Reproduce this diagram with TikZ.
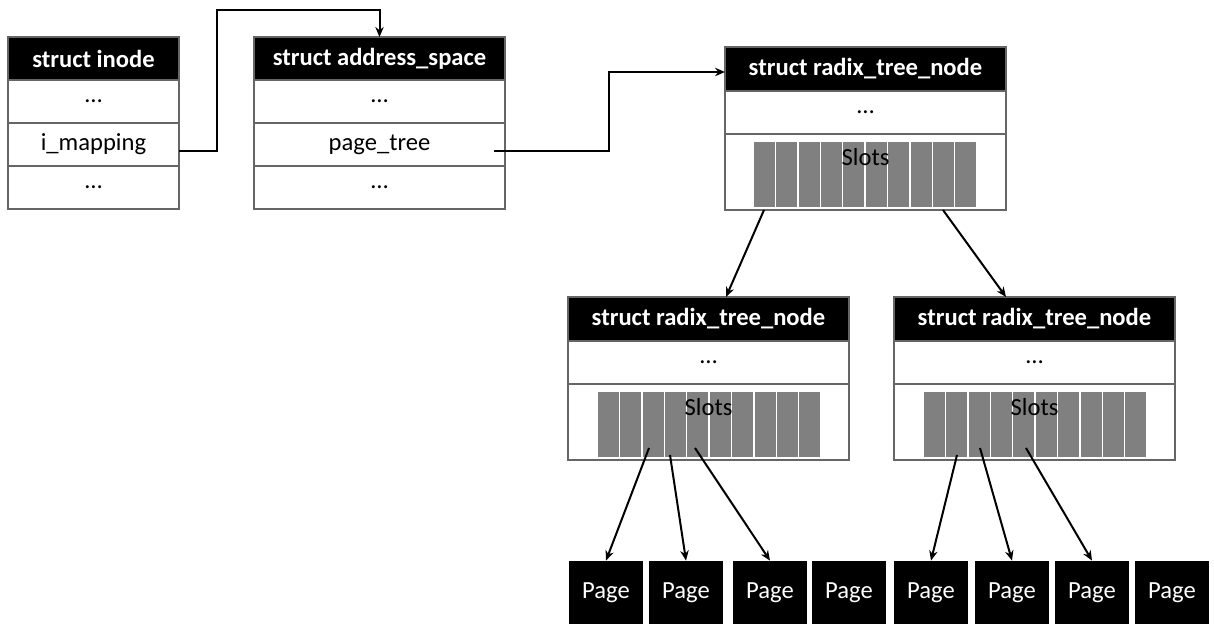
\documentclass[tikz,border=0pt]{standalone}
\usepackage{fontspec}
\setmainfont{Carlito}
\usetikzlibrary{arrows.meta}

\begin{document}
\begin{tikzpicture}[
    x=0.5pt, y=-0.5pt,
    font=\fontsize{12.3}{14}\selectfont,
    head/.style={draw=black!60, line width=0.6pt, fill=black, text=white,
                 minimum height=21.5pt, inner sep=0pt, outer sep=0pt,
                 font=\fontsize{12.3}{14}\selectfont\bfseries},
    field/.style={draw=black!60, line width=0.6pt, fill=white,
                  minimum height=21.5pt, inner sep=0pt, outer sep=0pt},
    pagebox/.style={fill=black, text=white, minimum width=37pt,
                    minimum height=32pt, inner sep=0pt},
    slot/.style={fill=black!50, draw=white, line width=0.7pt},
    arr/.style={-{Stealth[length=5pt, width=4.2pt]}, line width=1pt}
  ]
    \useasboundingbox (0,0) rectangle (1214,624);

    % struct inode
    \node[head, minimum width=85.5pt] (inode) at (93.5,58.5) {struct inode};
    \node[field, minimum width=85.5pt] (inodeA) at (93.5,101.5) {…};
    \node[field, minimum width=85.5pt] (imap) at (93.5,144.5) {i\_mapping};
    \node[field, minimum width=85.5pt] (inodeB) at (93.5,187.5) {…};

    % struct address_space
    \node[head, minimum width=125.5pt] (aspace) at (379.5,58.5) {struct address\_space};
    \node[field, minimum width=125.5pt] (aspaceA) at (379.5,101.5) {…};
    \node[field, minimum width=125.5pt] (ptree) at (379.5,144.5) {page\_tree};
    \node[field, minimum width=125.5pt] (aspaceB) at (379.5,187.5) {…};

    % radix tree nodes
    \foreach \nm/\cx/\cy in {radA/865.5/69, radB/708.5/319, radC/1034.5/319} {
      \node[head, minimum width=140.5pt, minimum height=22pt] (\nm) at (\cx,\cy) {struct radix\_tree\_node};
      \node[field, minimum width=140.5pt] (\nm dots) at (\cx,\cy+43.5) {…};
      \node[field, minimum width=140.5pt, minimum height=38pt] (\nm slots) at (\cx,\cy+103) {};
    }
    \foreach \sx/\sy in {753/141, 597/391, 923/391}
      \foreach \i in {0,...,9}
        \filldraw[slot] ({\sx+\i*22.4},\sy) rectangle +(22.4,67);
    \node (slotsA) at (865.5,157) {Slots};
    \node (slotsB) at (708.5,407) {Slots};
    \node (slotsC) at (1034.5,407) {Slots};

    % pages
    \foreach \px [count=\k] in {606,686,770,849,931,1012,1092,1172}
      \node[pagebox] (pg\k) at (\px,593) {Page};

    % pointers
    \coordinate (bendA) at (217,10);
    \coordinate (bendB) at (609,72);
    \draw[arr] ([yshift=-3.5pt]imap.east) -| (bendA) -| (aspace.north);
    \draw[arr] ([xshift=-5.5pt, yshift=-3.5pt]ptree.east) -| (bendB) -- (bendB -| radA.west);

    \coordinate (tA1) at (764,210);
    \coordinate (tA2) at (943,210);
    \draw[arr] (tA1) -- ([xshift=8.75pt]radB.north);
    \draw[arr] (tA2) -- ([xshift=-14.25pt]radC.north);

    \coordinate (sB1) at (649,448);
    \coordinate (sB2) at (670,455);
    \coordinate (sB3) at (695,448);
    \coordinate (sC1) at (957,455);
    \coordinate (sC2) at (980,448);
    \coordinate (sC3) at (1026,448);
    \draw[arr] (sB1) -- (pg1.north);
    \draw[arr] (sB2) -- (pg2.north);
    \draw[arr] (sB3) -- (pg3.north);
    \draw[arr] (sC1) -- (pg5.north);
    \draw[arr] (sC2) -- (pg6.north);
    \draw[arr] (sC3) -- (pg7.north);
  \end{tikzpicture}
\end{document}
